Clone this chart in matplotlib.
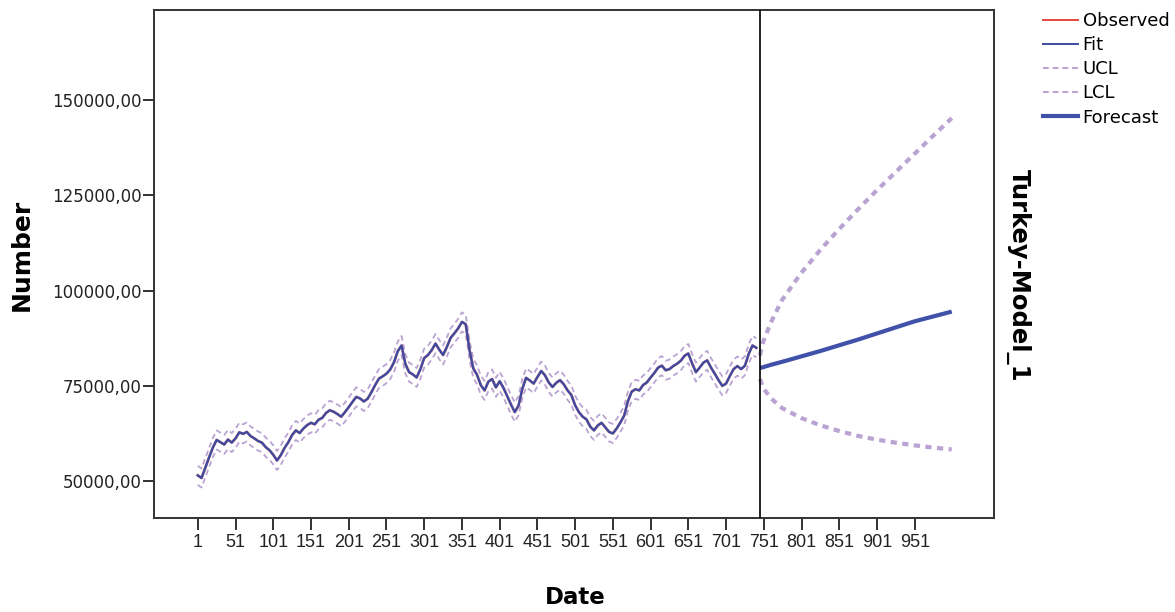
import numpy as np
import matplotlib
matplotlib.use("Agg")
import matplotlib.pyplot as plt
from matplotlib.lines import Line2D
from matplotlib.ticker import FuncFormatter

# ===============================
# DATA
# ===============================
obs_dates = np.arange(1, 742, 5)
observed = [
    51500, 50800, 53500, 56200, 58800, 60800, 60200, 59600, 60900, 60100,
    61200, 62800, 62400, 62900, 61800, 61200, 60500, 60100, 58900, 58100,
    56900, 55400, 56800, 58700, 60200, 62100, 63300, 62600, 63800, 64700,
    65300, 64900, 66100, 66600, 67900, 68600, 68200, 67600, 66900, 68100,
    69400, 70800, 72100, 71700, 70900, 71600, 73300, 75200, 76900, 77500,
    78200, 79300, 81200, 84100, 85600, 80800, 78600, 78000, 77200, 79400,
    82300, 83100, 84400, 86100, 84500, 83100, 85200, 87600, 88800, 90100,
    91800, 91200, 84500, 79600, 77900, 75200, 73800, 76100, 76800, 74600,
    76200, 74500, 72300, 70100, 68100, 69800, 74200, 77100, 76400, 75600,
    77300, 78900, 77800, 75900, 74700, 75800, 76500, 75400, 73800, 72600,
    69900, 68100, 66900, 66200, 64300, 63300, 64600, 65300, 64100, 62900,
    62500, 63800, 65400, 67200, 71000, 73500, 74100, 73800, 75200, 75900,
    77200, 78400, 79800, 80300, 79100, 79400, 80200, 80800, 81600, 82900,
    83500, 80900, 78600, 79800, 81100, 81700, 79800, 78200, 76500, 75000,
    75600, 77600, 79400, 80200, 79400, 80300, 83400, 85600, 85000,
]
fit = observed          # one-step fit sits on top of the observed series
fit_ci = 2500           # half-width of the fit confidence band

fc_dates = [746, 750, 760, 775, 800, 825, 850, 875, 900, 925, 950, 975, 1000]
forecast = [79700, 79900, 80500, 81300, 82700, 84100, 85600, 87100, 88700, 90300, 91900, 93200, 94500]
fc_ucl = [83000, 86500, 91500, 97500, 104500, 110500, 116000, 121200, 126200, 131000, 135800, 140600, 145300]
fc_lcl = [76800, 74500, 71800, 69200, 66600, 64700, 63200, 61900, 60900, 60100, 59400, 58800, 58300]

x_ticks = list(range(1, 1000, 50))
y_ticks = [50000, 75000, 100000, 125000, 150000]

# ===============================
# STYLE
# ===============================
C_OBS = '#e5493f'
C_FIT = '#3d4aa0'
C_CI = '#b9a3d2'
C_FC = '#3f51a8'

fig = plt.figure(figsize=(11.75, 6.12), dpi=100, facecolor='white')
ax = fig.add_axes([154 / 1175, 1 - 518 / 612, 840 / 1175, 508 / 612])

ucl = np.array(fit) + fit_ci
lcl = np.array(fit) - fit_ci

ax.plot(obs_dates, ucl, color=C_CI, lw=1.3, ls=(0, (3, 2)), zorder=2)
ax.plot(obs_dates, lcl, color=C_CI, lw=1.3, ls=(0, (3, 2)), zorder=2)
ax.plot(obs_dates, observed, color=C_OBS, lw=2.0, alpha=0.6, zorder=3)
ax.plot(obs_dates, fit, color=C_FIT, lw=1.7, zorder=4)

ax.plot(fc_dates, fc_ucl, color=C_CI, lw=3, ls=(0, (1.5, 1.3)), zorder=2)
ax.plot(fc_dates, fc_lcl, color=C_CI, lw=3, ls=(0, (1.5, 1.3)), zorder=2)
ax.plot(fc_dates, forecast, color=C_FC, lw=3, zorder=4, solid_capstyle='butt')

ax.axvline(fc_dates[0], color='black', lw=1.2, zorder=5)

ax.set_xlim(-57, 1056)
ax.set_ylim(40300, 173700)
ax.set_xticks(x_ticks)
ax.set_xticklabels([str(t) for t in x_ticks], family='Liberation Sans', fontsize=13)
ax.set_yticks(y_ticks)
ax.yaxis.set_major_formatter(FuncFormatter(lambda v, p: f"{v:.2f}".replace('.', ',')))
for lbl in ax.get_yticklabels():
    lbl.set_fontsize(12)
ax.tick_params(axis='x', direction='out', length=8.5, width=1.3, pad=3, colors='#222222')
ax.tick_params(axis='y', direction='out', length=8, width=1.3, pad=1, colors='#222222')
for s in ax.spines.values():
    s.set_linewidth(1.4)
    s.set_color('#333333')

# axis titles
fig.text(22 / 1175, 1 - 255 / 612, 'Number', rotation=90, ha='center', va='center',
         fontsize=18, fontweight='bold')
fig.text(575 / 1175, 1 - 598 / 612, 'Date', ha='center', va='center',
         fontsize=16.5, fontweight='bold')
fig.text(1018 / 1175, 1 - 275 / 612, 'Turkey-Model_1', rotation=270, ha='center', va='center',
         fontsize=17.5, fontweight='bold')

# legend
handles = [
    Line2D([], [], color=C_OBS, lw=1.4),
    Line2D([], [], color=C_FIT, lw=1.4),
    Line2D([], [], color=C_CI, lw=1.4, ls=(0, (3, 2))),
    Line2D([], [], color=C_CI, lw=1.4, ls=(0, (3, 2))),
    Line2D([], [], color=C_FC, lw=3),
]
fig.legend(handles, ['Observed', 'Fit', 'UCL', 'LCL', 'Forecast'],
           loc='upper left', bbox_to_anchor=(1043 / 1175, 1 - 12 / 612),
           frameon=False, fontsize=13, handlelength=1.95, handletextpad=0.25,
           labelspacing=0.34, borderpad=0, borderaxespad=0)

fig.savefig('out.png', dpi=100, facecolor='white')
